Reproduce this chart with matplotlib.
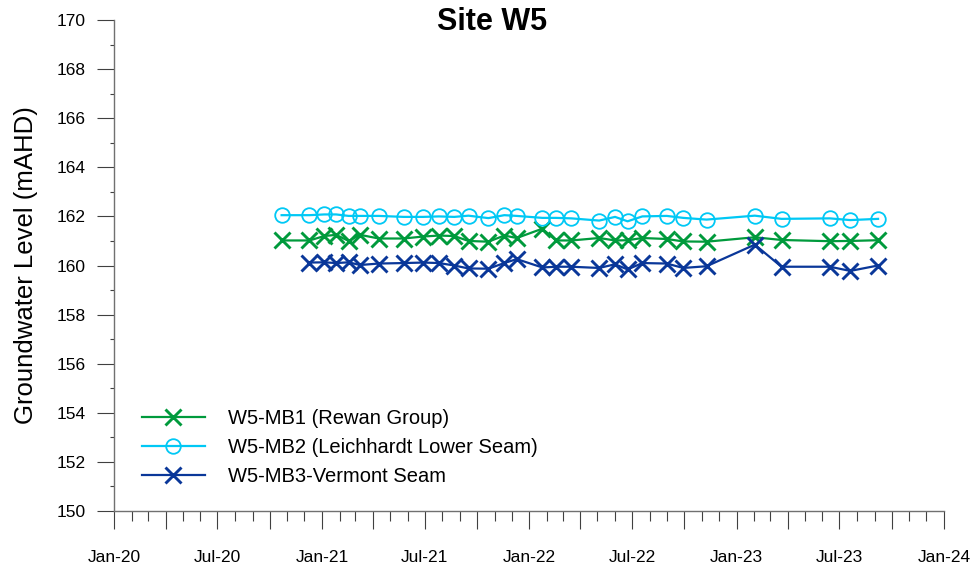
"""Site W5 groundwater levels (three monitoring bores)."""
import matplotlib
matplotlib.use("Agg")
import matplotlib.pyplot as plt
import matplotlib.dates as mdates
import numpy as np
from matplotlib.ticker import FuncFormatter

plt.rcParams["font.family"] = ["Liberation Sans", "DejaVu Sans"]

# ---------- data ----------
dates_all = np.array([
    "2020-10-22", "2020-12-10", "2021-01-05", "2021-01-26", "2021-02-17",
    "2021-03-09", "2021-04-11", "2021-05-25", "2021-06-28", "2021-07-26",
    "2021-08-22", "2021-09-16", "2021-10-21", "2021-11-18", "2021-12-10",
    "2022-01-24", "2022-02-17", "2022-03-16", "2022-05-04", "2022-06-01",
    "2022-06-23", "2022-07-19", "2022-08-31", "2022-09-29", "2022-11-09",
    "2023-02-02", "2023-03-21", "2023-06-14", "2023-07-20", "2023-09-07",
], dtype="datetime64[D]")

mb1 = [161.02, 161.02, 161.20, 161.25, 161.00, 161.25, 161.10, 161.10, 161.18, 161.22,
       161.20, 161.00, 160.97, 161.22, 161.12, 161.50, 161.02, 161.02, 161.12, 161.02,
       161.03, 161.12, 161.08, 160.98, 160.97, 161.15, 161.04, 160.99, 161.00, 161.03]

mb2 = [162.05, 162.05, 162.08, 162.08, 162.02, 162.02, 162.02, 161.98, 161.98, 162.00,
       161.98, 162.03, 161.93, 162.05, 162.02, 161.94, 161.94, 161.92, 161.83, 161.98,
       161.80, 162.00, 162.02, 161.94, 161.87, 162.03, 161.90, 161.92, 161.85, 161.90]

dates_mb3 = dates_all[1:]
mb3 = [160.12, 160.13, 160.10, 160.13, 160.02, 160.08, 160.10, 160.12, 160.10,
       160.00, 159.88, 159.87, 160.10, 160.26, 159.92, 159.95, 159.95, 159.90, 160.05,
       159.84, 160.10, 160.08, 159.90, 159.97, 160.85, 159.95, 159.95, 159.78, 160.00]

labels = ["W5-MB1 (Rewan Group)", "W5-MB2 (Leichhardt Lower Seam)", "W5-MB3-Vermont Seam"]

# ---------- plot ----------
fig = plt.figure(figsize=(9.78, 5.76), dpi=100)
ax = fig.add_axes([0.1166, 0.1128, 0.8486, 0.8525])

ax.plot(dates_all, mb1, "-x", color="#009A3C", lw=1.6, ms=11.5, mew=2.1, label=labels[0])
ax.plot(dates_all, mb2, "-o", color="#00C8F5", lw=1.6, ms=10.5, mew=1.3,
        mfc="none", label=labels[1])
ax.plot(dates_mb3, mb3, "-x", color="#0A3799", lw=1.6, ms=11.5, mew=2.1, label=labels[2])

ax.set_xlim(np.datetime64("2020-01-01"), np.datetime64("2024-01-01"))
ax.set_ylim(150, 170)
ax.set_yticks(np.arange(150, 171, 2))
ax.set_yticks(np.arange(150, 171, 1), minor=True)

ax.xaxis.set_major_locator(mdates.MonthLocator(bymonth=[1, 4, 7, 10]))
ax.xaxis.set_minor_locator(mdates.MonthLocator())


def fmt_date(x, pos):
    d = mdates.num2date(x)
    return d.strftime("%b-%y") if d.month in (1, 7) else ""


ax.xaxis.set_major_formatter(FuncFormatter(fmt_date))

for s in ["top", "right"]:
    ax.spines[s].set_visible(False)
for s in ["left", "bottom"]:
    ax.spines[s].set_color("#707070")
    ax.spines[s].set_linewidth(1.0)

ax.tick_params(axis="x", which="major", length=13, width=0.8, color="#404040",
               labelsize=12.5, pad=15)
ax.tick_params(axis="x", which="minor", length=7, width=0.8, color="#404040")
ax.tick_params(axis="y", which="major", length=12.5, width=0.8, color="#404040",
               labelsize=12.5, pad=8)
ax.tick_params(axis="y", which="minor", length=3, width=0.8, color="#404040")

ax.set_ylabel("Groundwater Level (mAHD)", fontsize=18.5, labelpad=13)
fig.text(492 / 978, 1 - 22 / 576, "Site W5", fontsize=22, fontweight="bold",
         ha="center", va="center")

ax.legend(loc="lower left", bbox_to_anchor=(0.034, 0.05), frameon=False,
          fontsize=14.5, handlelength=3.1, handletextpad=1.15, labelspacing=0.5,
          borderpad=0, borderaxespad=0)

fig.savefig("out.png", dpi=100)
